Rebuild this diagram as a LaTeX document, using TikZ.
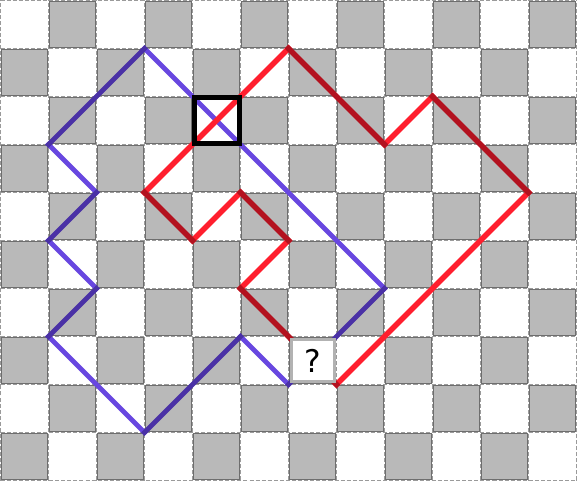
\documentclass[tikz,border=0pt]{standalone}
\usepackage{fontspec}
\newfontfamily\qfont{DejaVu Sans}
\definecolor{cellgray}{HTML}{B9B9B9}
\definecolor{cellborder}{HTML}{6E6E6E}
\definecolor{gridgray}{HTML}{9A9A9A}
\definecolor{lightblue}{HTML}{6847E0}
\definecolor{darkblue}{HTML}{4A31A6}
\definecolor{lightred}{HTML}{FF1F2E}
\definecolor{darkred}{HTML}{B3121F}
\definecolor{boxgray}{HTML}{B2B2B2}
\tikzset{
  graycell/.style={fill=cellgray, draw=cellborder, line width=0.6pt},
  griddash/.style={draw=gridgray, line width=0.6pt, dash pattern=on 2.4pt off 1.2pt},
  lb/.style={draw=lightblue, line width=2.9pt, line cap=rect},
  db/.style={draw=darkblue, line width=2.9pt, line cap=rect},
  lr/.style={draw=lightred, line width=3.3pt, line cap=rect},
  dr/.style={draw=darkred, line width=3.3pt, line cap=rect},
  focusbox/.style={draw=black, line width=2.9pt, minimum size=0.955cm, inner sep=0pt, outer sep=0pt},
  qbox/.style={draw=boxgray, fill=white, line width=1.8pt, minimum size=0.88cm, inner sep=0pt, outer sep=0pt, font=\qfont\fontsize{18.5}{22}\selectfont}
}
\begin{document}
\begin{tikzpicture}[x=1cm,y=-1cm]
\useasboundingbox (-0.01,-0.01) rectangle (12.01,10.01);
\fill[white] (-0.01,-0.01) rectangle (12.01,10.01);
% checkerboard
\foreach \c in {0,...,11} {
  \foreach \r in {0,...,9} {
    \pgfmathtruncatemacro\cellpar{mod(\c+\r,2)}
    \ifnum\cellpar=1
      \path[graycell] (\c+0.025,\r+0.025) rectangle (\c+0.975,\r+0.975);
    \fi
  }
}
\draw[griddash] (0,0) grid (12,10);
% blue loop
\draw[lb] (3,1) -- (8,6);
\draw[lb] (1,3) -- (2,4);
\draw[lb] (1,5) -- (2,6);
\draw[lb] (1,7) -- (3,9);
\draw[lb] (5,7) -- (6,8);
\draw[db] (1,3) -- (3,1);
\draw[db] (2,4) -- (1,5);
\draw[db] (2,6) -- (1,7);
\draw[db] (3,9) -- (5,7);
\draw[db] (8,6) -- (6,8);
% red loop
\draw[lr] (6,1) -- (3,4);
\draw[lr] (4,5) -- (5,4);
\draw[lr] (6,5) -- (5,6);
\draw[lr] (7,8) -- (11,4);
\draw[lr] (9,2) -- (8,3);
\draw[dr] (3,4) -- (4,5);
\draw[dr] (5,4) -- (6,5);
\draw[dr] (5,6) -- (7,8);
\draw[dr] (11,4) -- (9,2);
\draw[dr] (8,3) -- (6,1);
% highlighted square and unknown cell
\node[focusbox] (focus) at (4.51,2.505) {};
\node[qbox] (unknown) at (6.51,7.5) {?};
\end{tikzpicture}
\end{document}
